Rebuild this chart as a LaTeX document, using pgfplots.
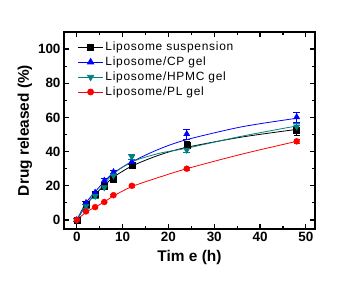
\documentclass[border=0pt]{standalone}
\usepackage{pgfplots}
\pgfplotsset{compat=1.18}
\usepackage{fontspec}
\setmainfont{Liberation Sans}
\newfontfamily\legfont[LetterSpace=6]{Liberation Sans}
\definecolor{tealc}{RGB}{0,128,128}
\begin{document}
\begin{tikzpicture}
\begin{axis}[
  at={(0,0)}, anchor=south west,
  scale only axis, width=251bp, height=197bp,
  xmin=-2.8, xmax=52, ymin=-5.3, ymax=110,
  xtick={0,10,...,50}, ytick={0,20,...,100},
  minor x tick num=1, minor y tick num=1,
  tick align=inside, major tick length=5bp, minor tick length=3bp,
  axis line style={line width=1.6pt},
  every tick/.style={line width=1.2pt, black},
  tick label style={font=\fontsize{13.5}{15}\selectfont\bfseries},
  /pgf/number format/assume math mode=true,
  xlabel={\textbf{Tim e (h)}}, ylabel={\textbf{Drug released (\%)}},
  label style={font=\fontsize{15.5}{17}\selectfont},
  xlabel style={yshift=-1bp},
  ylabel style={yshift=-1bp},
  legend style={draw=none, fill=none, at={(0.05,0.965)}, anchor=north west,
    font=\fontsize{12}{13}\selectfont\legfont, row sep=0.8bp, inner sep=1pt},
  legend cell align=left,
  legend image code/.code={
    \draw[#1,mark repeat=2,mark phase=2] plot coordinates {(0cm,0cm) (0.44cm,0cm) (0.88cm,0cm)};},
]
\addlegendimage{black, line width=0.8pt, mark=square*, mark size=3pt}
\addlegendentry{Liposome suspension}
\addlegendimage{blue, line width=0.8pt, mark=triangle*, mark size=3.6pt}
\addlegendentry{Liposome/CP gel}
\addlegendimage{tealc, line width=0.8pt, mark=triangle*, mark options={rotate=180}, mark size=3.6pt}
\addlegendentry{Liposome/HPMC gel}
\addlegendimage{red, line width=0.8pt, mark=*, mark size=3pt}
\addlegendentry{Liposome/PL gel}
% fitted curves
\addplot[black, line width=0.8pt, smooth, forget plot] coordinates {(0,0) (2,8.5) (4,15) (6,20) (8,25) (12,31.5) (18,38) (24,42.5) (36,48.5) (48,53)};
\addplot[blue, line width=0.8pt, smooth, forget plot] coordinates {(0,0) (2,10) (4,16.5) (6,22.5) (8,27.5) (12,34) (18,41.5) (24,47) (36,54.5) (48,59.5)};
\addplot[tealc, line width=0.8pt, smooth, forget plot] coordinates {(0,0) (2,9) (4,15) (6,21) (8,27) (12,34) (18,39) (24,42) (36,49) (48,55)};
\addplot[red, line width=0.8pt, smooth, forget plot] coordinates {(0,0) (2,4.5) (4,7.5) (6,10.5) (8,14) (12,19.5) (18,25) (24,30) (36,38.5) (48,46)};
% data points
\addplot[black, only marks, mark=square*, mark size=3pt, forget plot, error bars/.cd, y dir=both, y explicit, error bar style={line width=0.8pt}]
  coordinates {(0,0) +- (0,1) (2,9) +- (0,1) (4,15) +- (0,1) (6,20) +- (0,1) (8,24) +- (0,1) (12,32) +- (0,1.5) (24,44) +- (0,2) (48,52.6) +- (0,3)};
\addplot[blue, only marks, mark=triangle*, mark size=3.6pt, forget plot, error bars/.cd, y dir=both, y explicit, error bar style={line width=0.8pt}]
  coordinates {(0,0) +- (0,1) (2,10) +- (0,1) (4,16) +- (0,1) (6,23) +- (0,1.2) (8,28) +- (0,1.2) (12,34) +- (0,1.5) (24,50.3) +- (0,3) (48,60.2) +- (0,3)};
\addplot[tealc, only marks, mark=triangle*, mark options={rotate=180}, mark size=3.6pt, forget plot, error bars/.cd, y dir=both, y explicit, error bar style={line width=0.8pt}]
  coordinates {(0,0) +- (0,1) (2,8) +- (0,1) (4,14) +- (0,1) (6,19) +- (0,1) (8,26) +- (0,1) (12,37) +- (0,1.5) (24,41) +- (0,1.5) (48,54.6) +- (0,2)};
\addplot[red, only marks, mark=*, mark size=3pt, forget plot, error bars/.cd, y dir=both, y explicit, error bar style={line width=0.8pt}]
  coordinates {(0,0) +- (0,0.5) (2,5) +- (0,0.5) (4,7.5) +- (0,0.5) (6,10.5) +- (0,0.5) (8,14.5) +- (0,0.5) (12,20) +- (0,0.8) (24,30) +- (0,0.8) (48,46) +- (0,1)};
\end{axis}
\useasboundingbox (-64bp,-60bp) rectangle (284bp,229bp);
\end{tikzpicture}
\end{document}
